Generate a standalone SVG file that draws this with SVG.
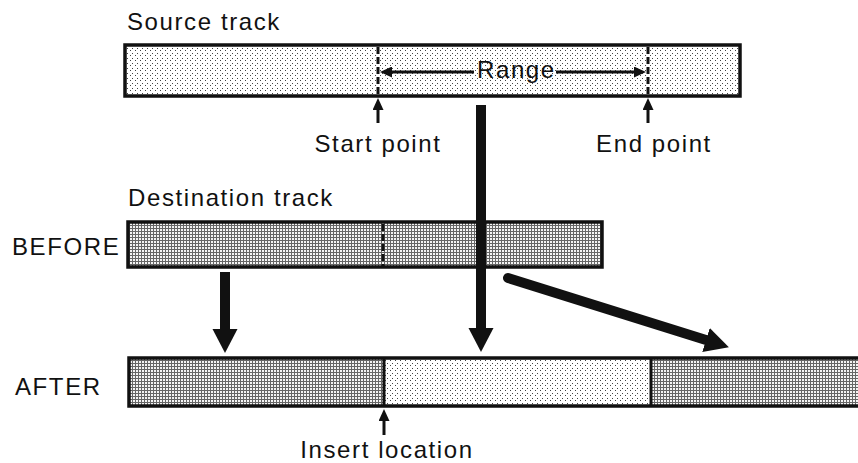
<svg xmlns="http://www.w3.org/2000/svg" width="858" height="463" viewBox="0 0 858 463">
<style>
  text { font-family: "Liberation Sans", Arial, Helvetica, sans-serif; font-size: 24px; fill: #111; letter-spacing: 1.6px; }
  .track { stroke: #111; stroke-width: 3.5; }
  .light { fill: url(#stipple); }
  .dark { fill: url(#grid); }
  .div { stroke: #111; stroke-width: 3; }
  .dash { stroke: #111; stroke-width: 3; stroke-dasharray: 7 3; }
  .big { stroke: #111; stroke-width: 10; fill: none; marker-end: url(#bighead); }
  .small { stroke: #111; stroke-width: 3; fill: none; marker-end: url(#smallhead); }
</style>
<defs>
  <pattern id="stipple" width="5" height="5" patternUnits="userSpaceOnUse">
    <rect width="5" height="5" fill="#fff"/>
    <rect x="0" y="0" width="1" height="1" fill="#444"/>
    <rect x="2" y="3" width="1" height="1" fill="#444"/>
  </pattern>
  <pattern id="grid" width="3" height="3" patternUnits="userSpaceOnUse">
    <rect width="3" height="3" fill="#f4f4f4"/>
    <rect x="0" y="0" width="3" height="1" fill="#666"/>
    <rect x="0" y="0" width="1" height="3" fill="#666"/>
  </pattern>
  <marker id="bighead" markerUnits="userSpaceOnUse" markerWidth="26" markerHeight="26" refX="0" refY="12.5" orient="auto">
    <path d="M0,0 L24,12.5 L0,25 Z" fill="#111"/>
  </marker>
  <marker id="smallhead" markerUnits="userSpaceOnUse" markerWidth="13" markerHeight="11" refX="0" refY="5.5" orient="auto">
    <path d="M0,0 L12,5.5 L0,11 Z" fill="#111"/>
  </marker>
</defs>

<g id="source-track">
  <rect class="track light" x="125" y="45" width="615" height="51"/>
  <line class="dash" x1="378" y1="47" x2="378" y2="95"/>
  <line class="dash" x1="648" y1="47" x2="648" y2="95"/>
  <text x="127" y="30">Source track</text>
  <text x="477" y="78">Range</text>
</g>

<g id="start-point">
  <text x="378" y="152" text-anchor="middle">Start point</text>
</g>
<g id="end-point">
  <text x="654" y="152" text-anchor="middle">End point</text>
</g>

<g id="destination-track">
  <rect class="track dark" x="128" y="222" width="474" height="45"/>
  <line class="dash" x1="383" y1="224" x2="383" y2="266"/>
  <text x="128" y="206">Destination track</text>
  <text x="12" y="255">BEFORE</text>
</g>

<g id="after-track">
  <rect class="dark" x="129" y="358" width="255" height="48"/>
  <rect class="light" x="384" y="358" width="267" height="48"/>
  <rect class="dark" x="651" y="358" width="210" height="48"/>
  <path class="track" fill="none" d="M862,358 L129,358 L129,406 L862,406"/>
  <line class="div" x1="384" y1="358" x2="384" y2="406"/>
  <line class="div" x1="651" y1="358" x2="651" y2="406"/>
  <text x="15" y="395">AFTER</text>
</g>

<g id="insert-location">
  <text x="387" y="458" text-anchor="middle">Insert location</text>
</g>

<g id="connectors">
  <line class="small" x1="474" y1="72" x2="392" y2="72"/>
  <line class="small" x1="556" y1="72" x2="634" y2="72"/>
  <line class="small" x1="378" y1="123" x2="378" y2="110"/>
  <line class="small" x1="648" y1="123" x2="648" y2="110"/>
  <line class="small" x1="384" y1="435" x2="384" y2="421"/>
  <line class="big" x1="481" y1="105" x2="481" y2="328"/>
  <line class="big" x1="225" y1="272" x2="225" y2="329"/>
  <line class="big" stroke-linecap="round" x1="508" y1="278" x2="706" y2="340"/>
</g>
</svg>
